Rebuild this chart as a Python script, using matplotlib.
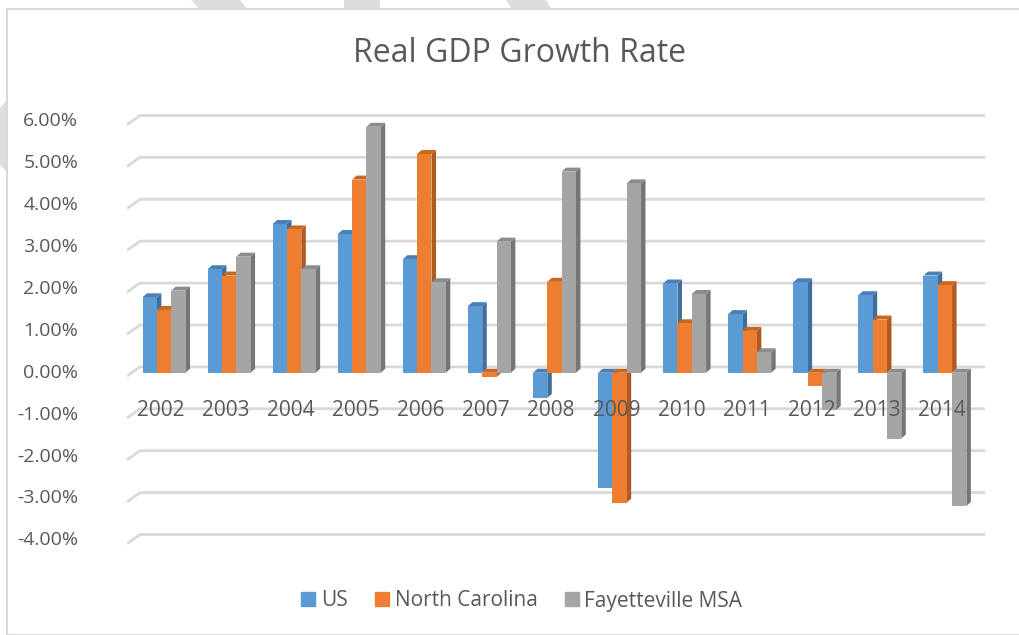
import numpy as np
import matplotlib.pyplot as plt
from matplotlib.patches import Polygon, Rectangle
from matplotlib.lines import Line2D

plt.rcParams['font.family'] = ['Open Sans', 'DejaVu Sans']

# Data (growth rates in %)
years = ['2002', '2003', '2004', '2005', '2006', '2007', '2008',
         '2009', '2010', '2011', '2012', '2013', '2014']
us = [1.80, 2.47, 3.55, 3.31, 2.71, 1.59, -0.60, -2.76, 2.13, 1.40, 2.16, 1.85, 2.32]
nc = [1.50, 2.32, 3.42, 4.61, 5.22, -0.10, 2.17, -3.10, 1.18, 1.00, -0.31, 1.27, 2.09]
fay = [1.96, 2.77, 2.47, 5.87, 2.16, 3.13, 4.80, 4.52, 1.88, 0.49, -0.89, -1.57, -3.18]
series_names = ['US', 'North Carolina', 'Fayetteville MSA']
yticks = [6, 5, 4, 3, 2, 1, 0, -1, -2, -3, -4]

front = ['#5B9BD5', '#ED7D31', '#A5A5A5']
side = ['#3F6F9C', '#AE5A21', '#767676']
top = ['#4A80B5', '#C9661F', '#8C8C8C']
text_col = '#595959'
grid_col = '#D9D9D9'

W, H = 1020, 635
fig = plt.figure(figsize=(10.2, 6.35), dpi=100)


def px(pts):
    # pixel coords (origin top-left) -> figure fraction
    return [(a / W, 1 - b / H) for a, b in pts]


# page decoration shapes peeking out around the chart frame
for shape in [[(191, 0), (240, 0), (247, 9), (199, 9)],
              [(344, 0), (380, 0), (380, 9), (344, 9)],
              [(506, 0), (546, 0), (551, 9), (512, 9)],
              [(0, 108), (7, 100), (7, 172), (0, 165)]]:
    fig.patches.append(Polygon(px(shape), closed=True, transform=fig.transFigure,
                               facecolor='#DEDEDE', edgecolor='none'))

# chart border
fig.patches.append(Rectangle((7 / W, 0), 1.2, 1 - 9 / H, transform=fig.transFigure,
                             fill=False, edgecolor=grid_col, linewidth=1.5))

ax = fig.add_axes([127 / W, 1 - 550 / H, (985 - 127) / W, 440 / H])
xmin, xmax = -0.569, 12.616
ax.set_xlim(xmin, xmax)
ax.set_ylim(-4.23, 6.27)
ax.axis('off')

# back-wall gridlines with slanted left edge
gx = 0.2
for v in yticks:
    ax.plot([xmin, xmin + gx, xmax], [v - 0.08, v + 0.14, v + 0.14],
            color=grid_col, linewidth=2, zorder=1, solid_capstyle='butt')
    lbl = '%.2f%%' % v
    ax.text(xmin - 0.75, v, lbl, ha='right', va='center', fontsize=14,
            color=text_col)

# pseudo-3D clustered bars
w = 0.22
dx, dy = 0.069, 0.095
x = np.arange(len(years))
z = 3
for i, (vals, name) in enumerate(zip([us, nc, fay], series_names)):
    for xc, v in zip(x + (i - 1) * w, vals):
        x0, x1 = xc - w / 2, xc + w / 2
        lo, hi = min(0, v), max(0, v)
        ax.add_patch(Polygon([(x1, lo), (x1 + dx, lo + dy), (x1 + dx, hi + dy), (x1, hi)],
                             closed=True, facecolor=side[i], edgecolor='none', zorder=z))
        ax.add_patch(Polygon([(x0, hi), (x0 + dx, hi + dy), (x1 + dx, hi + dy), (x1, hi)],
                             closed=True, facecolor=top[i], edgecolor='none', zorder=z))
        ax.bar(xc, v, width=w, color=front[i], zorder=z + 1)
    z += 2

for xi, yr in zip(x, years):
    ax.text(xi - 0.05, -0.9, yr, ha='center', va='center', fontsize=15,
            color=text_col, zorder=20)

fig.text(0.509, 1 - 53 / H, 'Real GDP Growth Rate', ha='center', va='center',
         fontsize=23, color=text_col)

handles = [Line2D([], [], marker='s', linestyle='none', markersize=10,
                  markerfacecolor=c, markeredgecolor=c) for c in front]
fig.legend(handles, series_names, loc='center', bbox_to_anchor=(0.51, 1 - 601 / H),
           ncol=3, frameon=False, fontsize=15, labelcolor=text_col,
           handletextpad=0.1, columnspacing=1.15, handlelength=1.0)

fig.savefig('out.png', dpi=100)
